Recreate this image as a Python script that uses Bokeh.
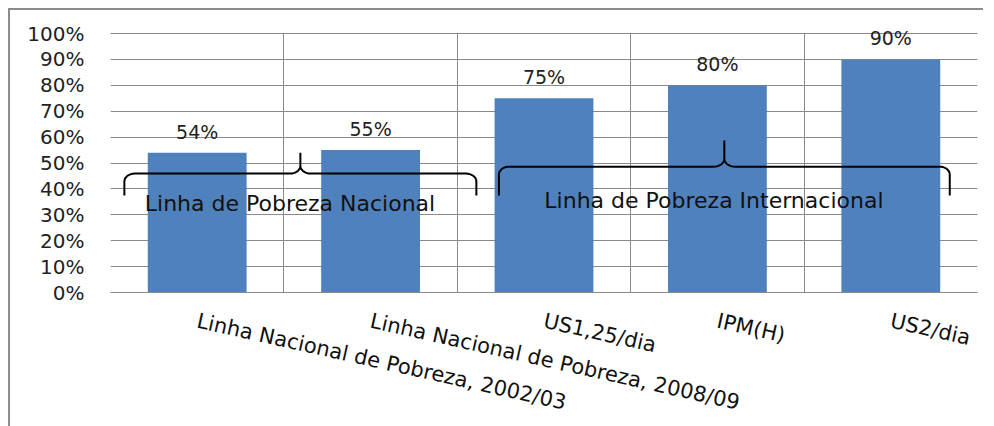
import numpy as np
from bokeh.plotting import figure
from bokeh.models import (ColumnDataSource, FixedTicker, NumeralTickFormatter,
                          Range1d, Label)
from bokeh.embed import file_html
from bokeh.resources import INLINE

# ---- data ----
categories = ["Linha Nacional de Pobreza, 2002/03",
              "Linha Nacional de Pobreza, 2008/09",
              "US1,25/dia", "IPM(H)", "US2/dia"]
values = [0.54, 0.55, 0.75, 0.80, 0.90]
value_labels = ["54%", "55%", "75%", "80%", "90%"]
y_ticks = [i / 10 for i in range(11)]

brace_names = ["Linha de Pobreza Nacional", "Linha de Pobreza Internacional"]
brace_from = [0.08, 2.24]      # in category units
brace_to = [2.11, 4.84]
brace_level = [0.459, 0.486]   # horizontal bar of the brace
brace_tip = [0.54, 0.587]
brace_end = [0.375, 0.375]
brace_text_y = [0.344, 0.355]

FONT = "DejaVu Sans"
GRID = "#8a8a8a"

xs = [i + 0.5 for i in range(len(categories))]
src = ColumnDataSource(dict(x=xs, top=values, lab=value_labels))

# frame extends a little above 100% so the top value label is not clipped
p = figure(frame_width=867, frame_height=275, output_backend="svg",
           toolbar_location=None, x_range=Range1d(0, len(categories)),
           y_range=Range1d(0, 275 / 259),
           min_border_left=100, min_border_top=7, min_border_right=6,
           min_border_bottom=20)
p.styles = {"border-left": "2px solid #8c8c8c", "border-top": "2px solid #8c8c8c",
            "margin-left": "8px", "margin-top": "8px"}

p.vbar(x="x", top="top", width=0.57, source=src, color="#4F81BD", line_color=None)

for xv, tv, lab in zip(xs, values, value_labels):
    p.add_layout(Label(x=xv, y=tv, text=lab, text_align="center",
                       text_baseline="alphabetic", y_offset=21,
                       text_font=FONT, text_font_size="19px", text_color="#222222"))

# braces
def brace_path(x0, x1, yh, ytip, yend, rx=0.06, ry=0.03, n=8):
    xm = (x0 + x1) / 2
    t = np.linspace(0, np.pi / 2, n)
    px, py = [x0], [yend]
    px += list(x0 + rx - rx * np.cos(t)); py += list(yh - ry + ry * np.sin(t))
    px += list(xm - rx + rx * np.sin(t)); py += list(yh + ry - ry * np.cos(t))
    px += [xm]; py += [ytip]
    px += list(xm + rx - rx * np.sin(t[::-1])); py += list(yh + ry - ry * np.cos(t[::-1]))
    px += list(x1 - rx + rx * np.cos(t[::-1])); py += list(yh - ry + ry * np.sin(t[::-1]))
    px += [x1]; py += [yend]
    return px, py

for i in range(len(brace_names)):
    bx, by = brace_path(brace_from[i], brace_to[i], brace_level[i], brace_tip[i], brace_end[i])
    p.line(bx, by, line_color="black", line_width=2)
    p.add_layout(Label(x=(brace_from[i] + brace_to[i]) / 2 - 0.06, y=brace_text_y[i],
                       text=brace_names[i], text_align="center", text_baseline="middle",
                       text_font=FONT, text_font_size="22px", text_color="#111111"))

# axes
p.xaxis.ticker = FixedTicker(ticks=xs)
p.xaxis.major_label_overrides = {x: c for x, c in zip(xs, categories)}
p.xaxis.major_label_orientation = -0.22
p.xaxis.major_tick_line_color = None
p.xaxis.minor_tick_line_color = None
p.xaxis.axis_line_color = GRID
p.xaxis.major_label_standoff = 22
p.xaxis.major_label_text_font = FONT
p.xaxis.major_label_text_font_size = "21px"
p.xaxis.major_label_text_font_style = "normal"
p.xaxis.major_label_text_color = "#111111"

p.yaxis.ticker = FixedTicker(ticks=y_ticks)
p.yaxis.formatter = NumeralTickFormatter(format="0%")
p.yaxis.major_tick_line_color = None
p.yaxis.minor_tick_line_color = None
p.yaxis.axis_line_color = None
p.yaxis.major_label_standoff = 20
p.yaxis.major_label_text_font = FONT
p.yaxis.major_label_text_font_size = "20px"
p.yaxis.major_label_text_color = "#222222"

p.xgrid.ticker = FixedTicker(ticks=list(range(len(categories) + 1)))
p.xgrid.cross_bounds = (0, 1)
p.xgrid.grid_line_color = GRID
p.ygrid.ticker = FixedTicker(ticks=y_ticks)
p.ygrid.grid_line_color = GRID
p.outline_line_color = None

open("out.html", "w").write(file_html(p, INLINE))
